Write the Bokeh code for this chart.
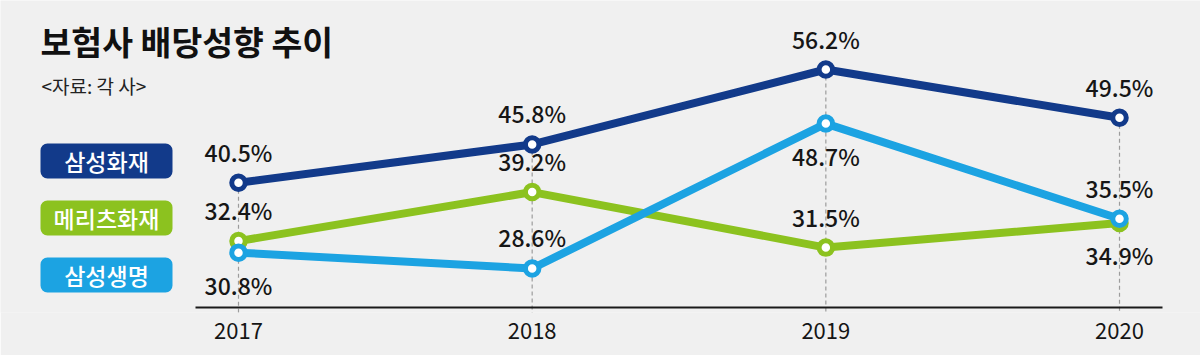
from bokeh.plotting import figure
from bokeh.models import Range1d, ColumnDataSource, FixedTicker
from bokeh.core.properties import value
from bokeh.embed import file_html
from bokeh.resources import INLINE

# ---- data ----
title = "보험사 배당성향 추이"
source_note = "<자료: 각 사>"
years = [2017, 2018, 2019, 2020]
series_names = ["삼성화재", "메리츠화재", "삼성생명"]
samsung_fire = [40.5, 45.8, 56.2, 49.5]
meritz_fire = [32.4, 39.2, 31.5, 34.9]
samsung_life = [30.8, 28.6, 48.7, 35.5]

# ---- style ----
colors = ["#123a8a", "#8cc21f", "#1ca3e2"]
label_side = [[-1, -1, -1, -1], [-1, -1, -1, 1], [1, -1, 1, -1]]  # -1 above, 1 below
BG = "#f0f0f0"
FONT = "Noto Sans CJK KR"
FONT_MED = "'Noto Sans CJK KR Medium', 'Noto Sans CJK KR'"

W, H = 1200, 355
BOTTOM = 43
PX_PER_YEAR = 293.67
PX_PER_UNIT = 7.21
x_start = 2017 - 238 / PX_PER_YEAR
x_end = x_start + W / PX_PER_YEAR
y_end = 56.2 + 69 / PX_PER_UNIT
y_start = y_end - (H - BOTTOM) / PX_PER_UNIT


def X(px):
    return x_start + px / PX_PER_YEAR


def Y(py):
    return y_end - py / PX_PER_UNIT


p = figure(width=W, height=H, x_range=Range1d(x_start, x_end), y_range=Range1d(y_start, y_end),
           output_backend="svg", toolbar_location=None, y_axis_location=None,
           min_border_left=0, min_border_right=0, min_border_top=0, min_border_bottom=BOTTOM,
           background_fill_color=BG, border_fill_color=BG, outline_line_color=None)
p.grid.visible = False

ax = p.xaxis[0]
ax.ticker = FixedTicker(ticks=years)
ax.axis_line_color = None
ax.major_tick_line_color = None
ax.minor_tick_line_color = None
ax.major_label_text_font = FONT
ax.major_label_text_font_size = "22px"
ax.major_label_text_color = "#151515"
ax.major_label_standoff = 4

series = [samsung_fire, meritz_fire, samsung_life]

# dashed guides
tops = [max(s[i] for s in series) for i in range(len(years))]
p.segment(x0=years, y0=tops, x1=years, y1=[Y(313)] * len(years),
          line_color="#9c9c9c", line_width=1.2, line_dash="4 3")

# axis line
p.segment(x0=[X(195)], y0=[Y(307)], x1=[X(1162)], y1=[Y(307)], line_color="#1a1a1a", line_width=2)

for vals, c in zip(series, colors):
    p.line(years, vals, line_color=c, line_width=8)
for vals, c in zip(series, colors):
    p.scatter(years, vals, size=13.5, fill_color="white", line_color=c, line_width=5)

# value labels
lx, ly, lt, lo = [], [], [], []
for vals, sides in zip(series, label_side):
    for yr, v, s in zip(years, vals, sides):
        lx.append(yr)
        ly.append(v)
        lt.append(f"{v:.1f}%")
        lo.append(-31 if s < 0 else 32)
lsrc = ColumnDataSource(dict(x=lx, y=ly, text=lt, yo=lo))
p.text(x="x", y="y", text="text", y_offset="yo", source=lsrc, text_align="center", text_baseline="middle",
       text_font=value(FONT_MED), text_font_size="23px", text_color="#161616")

# title and note
p.text(x=[X(40)], y=[Y(40)], text=[title], text_align="left", text_baseline="middle",
       text_font=value(FONT), text_font_size="33.5px", text_font_style="bold", text_color="#111111")
p.text(x=[X(41)], y=[Y(85)], text=[source_note], text_align="left", text_baseline="middle",
       text_font=value(FONT), text_font_size="19px", text_color="#222222")

# legend boxes
box_tops = [143, 200, 257]
for name, c, bt in zip(series_names, colors, box_tops):
    p.quad(left=[X(40)], right=[X(172)], top=[Y(bt)], bottom=[Y(bt + 35)],
           fill_color=c, line_color=None, border_radius=7)
    p.text(x=[X(106)], y=[Y(bt + 17.5)], text=[name], text_align="center", text_baseline="middle",
           text_font=value(FONT_MED), text_font_size="23px", text_color="white")

open("out.html", "w").write(file_html(p, INLINE))
